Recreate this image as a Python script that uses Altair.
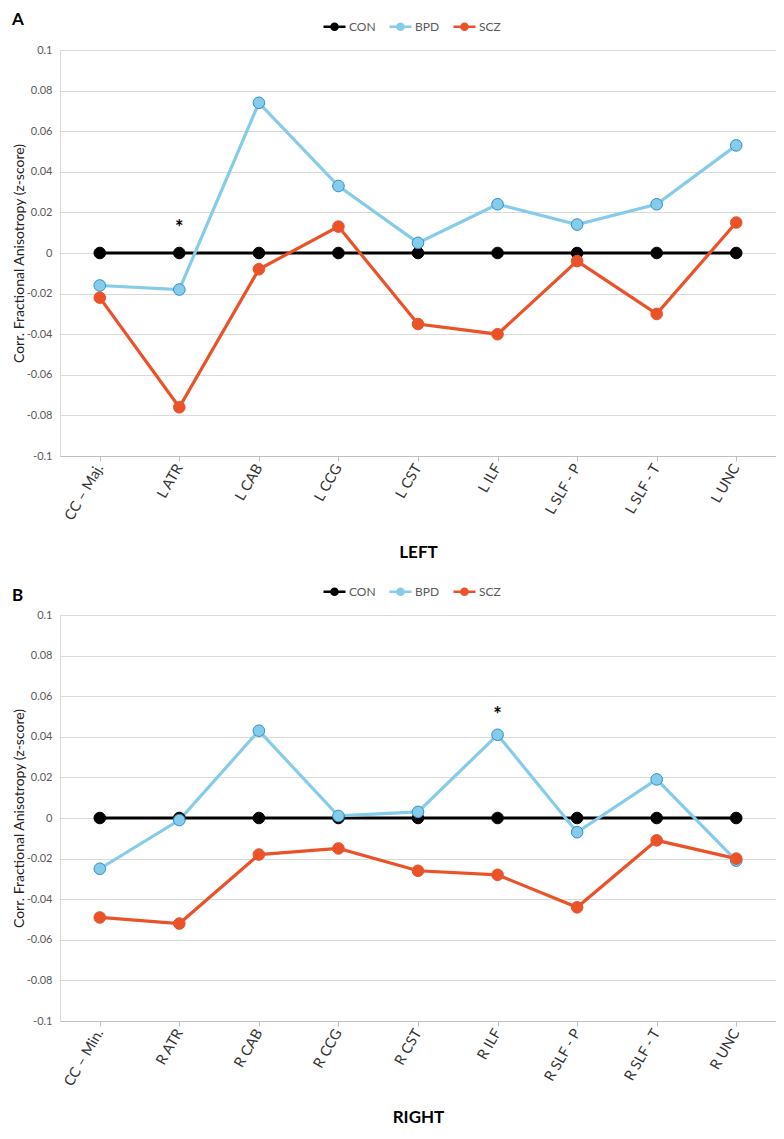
import altair as alt
import pandas as pd

groups = ["CON", "BPD", "SCZ"]
line_colors = ["#000000", "#86CBEA", "#EA5329"]
edge_colors = ["#000000", "#2E8FC9", "#EA5329"]
y_ticks = [-0.1, -0.08, -0.06, -0.04, -0.02, 0, 0.02, 0.04, 0.06, 0.08, 0.1]

left_cats = ["CC – Maj.", "L ATR", "L CAB", "L CCG", "L CST", "L ILF", "L SLF - P", "L SLF - T", "L UNC"]
left_con = [0, 0, 0, 0, 0, 0, 0, 0, 0]
left_bpd = [-0.016, -0.018, 0.074, 0.033, 0.005, 0.024, 0.014, 0.024, 0.053]
left_scz = [-0.022, -0.076, -0.008, 0.013, -0.035, -0.040, -0.004, -0.030, 0.015]
left_star = ["L ATR"]
left_star_val = [0.014]

right_cats = ["CC – Min.", "R ATR", "R CAB", "R CCG", "R CST", "R ILF", "R SLF - P", "R SLF - T", "R UNC"]
right_con = [0, 0, 0, 0, 0, 0, 0, 0, 0]
right_bpd = [-0.025, -0.001, 0.043, 0.001, 0.003, 0.041, -0.007, 0.019, -0.021]
right_scz = [-0.049, -0.052, -0.018, -0.015, -0.026, -0.028, -0.044, -0.011, -0.020]
right_star = ["R ILF"]
right_star_val = [0.052]

FONT = "Lato"
LEGEND_SYMBOL = "M-1,0L1,0M0.28,0A0.28,0.28,0,1,1,-0.28,0A0.28,0.28,0,1,1,0.28,0Z"
W, H = 716, 406


def panel(cats, con, bpd, scz, star_cats, star_vals, letter, axis_title, letter_offset):
    rows = []
    for g, vals in zip(groups, (con, bpd, scz)):
        for i, (c, v) in enumerate(zip(cats, vals)):
            rows.append({"cat": c, "group": g, "value": v, "idx": i})
    df = pd.DataFrame(rows)
    stars = pd.DataFrame({"cat": star_cats, "value": star_vals, "label": ["*"] * len(star_cats)})

    x = alt.X(
        "cat:N", sort=cats, scale=alt.Scale(type="point", padding=0.5),
        axis=alt.Axis(
            title=axis_title, labelAngle=-60, labelFontSize=14.5, labelColor="#333333",
            labelFont=FONT, titleFont=FONT, titleFontSize=17, titleFontWeight="bold",
            titleColor="#000000", domainColor="#BFBFBF", tickColor="#BFBFBF", tickSize=5,
            grid=False, labelPadding=4, titleY=96, titleBaseline="middle",
        ),
    )
    y = alt.Y(
        "value:Q", scale=alt.Scale(domain=[-0.1, 0.1], nice=False, zero=False),
        axis=alt.Axis(
            values=y_ticks, title="Corr. Fractional Anisotropy  (z-score)",
            labelExpr="toString(round(datum.value*100)/100)", ticks=False, labelPadding=8,
            labelFontSize=11, labelFont=FONT, labelColor="#595959", gridColor="#D9D9D9",
            domainColor="#D9D9D9", titleX=-34, titleFontSize=14, titleFont=FONT,
            titleFontWeight="normal", titleColor="#222222",
        ),
    )
    color = alt.Color(
        "group:N", scale=alt.Scale(domain=groups, range=line_colors), sort=groups,
        legend=alt.Legend(
            title=None, orient="none", legendX=262, legendY=-36, direction="horizontal",
            symbolType=LEGEND_SYMBOL, symbolSize=484, symbolStrokeWidth=2.5,
            labelFont=FONT, labelFontSize=12, labelColor="#595959", columnPadding=8,
            labelOffset=2,
        ),
    )
    base = alt.Chart(df)
    lines = base.mark_line(strokeWidth=3.2).encode(x=x, y=y, color=color, order=alt.Order("idx:Q"))
    points = base.mark_point(filled=True, size=135, strokeWidth=1, opacity=1).encode(
        x=x, y=y, color=color,
        stroke=alt.Stroke("group:N", scale=alt.Scale(domain=groups, range=edge_colors), legend=None),
    )
    star = alt.Chart(stars).mark_text(fontSize=20, fontWeight="bold", font=FONT, color="#000000",
                                      baseline="middle", dy=4).encode(
        x=alt.X("cat:N", sort=cats), y=alt.Y("value:Q"), text="label:N")
    return alt.layer(lines, points, star).properties(
        width=W, height=H,
        title=alt.TitleParams(letter, anchor="start", frame="bounds", fontSize=17, fontWeight="bold",
                              font=FONT, offset=letter_offset, baseline="middle", color="#000000"),
    )


pa = panel(left_cats, left_con, left_bpd, left_scz, left_star, left_star_val, "A", "LEFT", -23)
pb = panel(right_cats, right_con, right_bpd, right_scz, right_star, right_star_val, "B", "RIGHT", -34)

chart = alt.vconcat(pa, pb, spacing=19).resolve_scale(color="independent", stroke="independent").properties(
    padding={"left": 4, "top": 3, "right": 0, "bottom": 0}
).configure_view(strokeWidth=0)

chart.save("out.html", embed_options={"renderer": "svg", "actions": False})
